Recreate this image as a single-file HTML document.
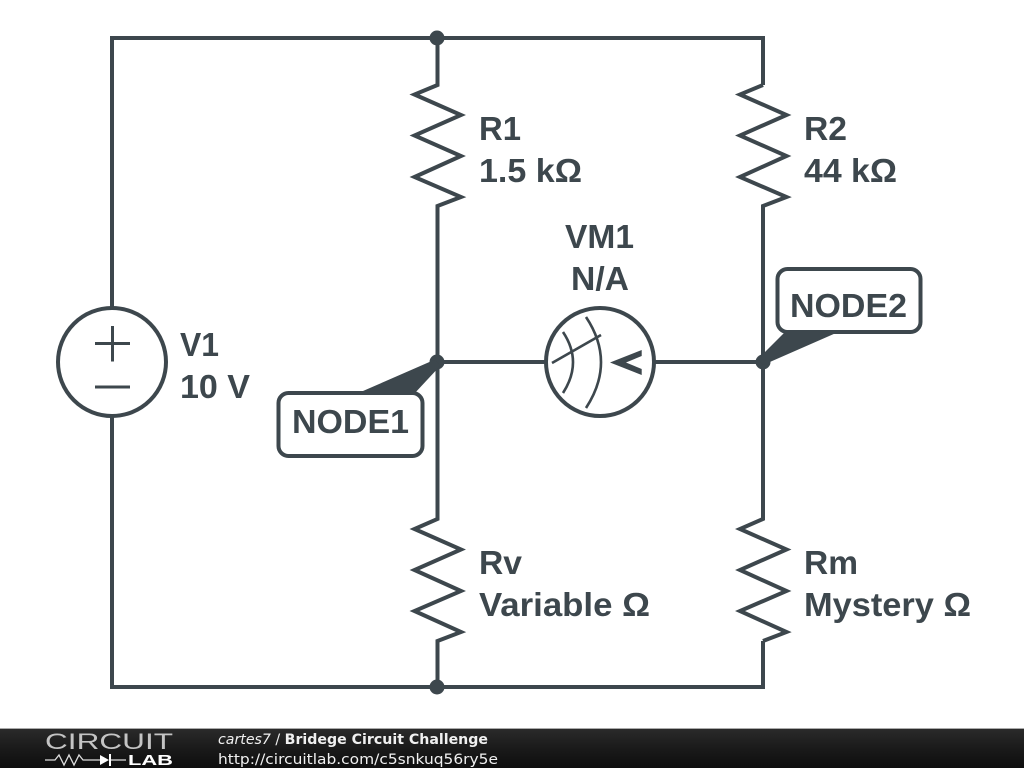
<!DOCTYPE html>
<html><head><meta charset="utf-8"><style>
html,body{margin:0;padding:0;background:#fff;width:1024px;height:768px;overflow:hidden}
svg{display:block}
</style></head><body>
<svg width="1024" height="768" viewBox="0 0 1024 768" xmlns="http://www.w3.org/2000/svg">
<defs>
<linearGradient id="f" x1="0" y1="0" x2="0" y2="1"><stop offset="0" stop-color="#2a2a2a"/><stop offset="0.5" stop-color="#1a1a1a"/><stop offset="1" stop-color="#0e0e0e"/></linearGradient>
</defs>
<g fill="none" stroke="#3d474d" stroke-width="4" stroke-linejoin="miter">
<path d="M112 308V38H763V85"/>
<path d="M112 417V687H763V641"/>
<path d="M437.500 38V85L414.500 94.500L461 115L414.500 135.500L461 156L414.500 177L461 197L437.500 206V519L414.500 529L461 549.500L414.500 570L461 591L414.500 611L461 632L437.500 641V687"/>
<path d="M763 85L740 94.500L786.500 115L740 135.500L786.500 156L740 177L786.500 197L763 206V519L740 529L786.500 549.500L740 570L786.500 591L740 611L786.500 632L763 641"/>
<path d="M437 362H545M655 362H763"/>
<circle cx="112" cy="362" r="54" fill="#fff"/>
<circle cx="600" cy="362" r="54" fill="#fff"/>
</g>
<g fill="none" stroke="#3d474d" stroke-width="3">
<path d="M95 343.500H130M112.500 326V361.500M95 387H130"/>
</g>
<g fill="none" stroke="#3d474d" stroke-width="2.600">
<path d="M552 363L601 335"/>
<path d="M563 332Q583 362 563 393"/>
<path d="M586 317Q616 362 586 408"/>
</g>
<path d="M641.700 350L610 362.500L641.700 375V369L626 362.500L641.700 356Z" fill="#3d474d"/>
<g fill="#3d474d">
<circle cx="437" cy="38" r="7.500"/><circle cx="437" cy="362" r="7.500"/><circle cx="763" cy="362" r="7.500"/><circle cx="437" cy="687" r="7.500"/>
<path d="M363 391L434 360L441 365L414 394Z"/>
<path d="M785 332L836 333L763 365L758 359Z"/>
</g>
<rect x="278.500" y="393" width="144" height="63" rx="10" fill="#fff" stroke="#3d474d" stroke-width="4"/>
<rect x="777.500" y="269" width="143" height="63" rx="10" fill="#fff" stroke="#3d474d" stroke-width="4"/>
<g font-family="'Liberation Sans',sans-serif" font-weight="bold" font-size="33" fill="#3d474d" lengthAdjust="spacingAndGlyphs">
<text x="479" y="140" textLength="42" lengthAdjust="spacingAndGlyphs">R1</text><text x="479" y="182" textLength="103" lengthAdjust="spacingAndGlyphs">1.5 kΩ</text>
<text x="804" y="140" textLength="43" lengthAdjust="spacingAndGlyphs">R2</text><text x="804" y="182" textLength="93" lengthAdjust="spacingAndGlyphs">44 kΩ</text>
<text x="180" y="356" textLength="39" lengthAdjust="spacingAndGlyphs">V1</text><text x="180" y="398" textLength="70" lengthAdjust="spacingAndGlyphs">10 V</text>
<text x="565" y="248" textLength="69" lengthAdjust="spacingAndGlyphs">VM1</text><text x="571" y="290" textLength="58" lengthAdjust="spacingAndGlyphs">N/A</text>
<text x="479" y="574" textLength="43" lengthAdjust="spacingAndGlyphs">Rv</text><text x="479" y="616" textLength="171" lengthAdjust="spacingAndGlyphs">Variable Ω</text>
<text x="804" y="574" textLength="54" lengthAdjust="spacingAndGlyphs">Rm</text><text x="804" y="616" textLength="167" lengthAdjust="spacingAndGlyphs">Mystery Ω</text>
<text x="292" y="433" textLength="117" lengthAdjust="spacingAndGlyphs">NODE1</text><text x="790" y="317" textLength="117" lengthAdjust="spacingAndGlyphs">NODE2</text>
</g>
<rect x="0" y="729" width="1024" height="39" fill="url(#f)"/>
<rect x="0" y="728" width="1024" height="1" fill="#aaa"/>
<text x="45" y="749" font-family="'Liberation Sans',sans-serif" font-size="22" fill="#c4c4c4" textLength="128" lengthAdjust="spacingAndGlyphs">CIRCUIT</text>
<path d="M45 760H55L59 755L64 765L69 755L74 765L79 755L83 760H100M110 760H126" fill="none" stroke="#ddd" stroke-width="1.300"/>
<path d="M100 755L109 760L100 765Z" fill="#fff"/><path d="M110 754V766" stroke="#fff" stroke-width="2"/>
<text x="128" y="765" font-family="'Liberation Sans',sans-serif" font-weight="bold" font-size="15" fill="#fff" textLength="45" lengthAdjust="spacingAndGlyphs">LAB</text>
<g font-family="'DejaVu Sans',sans-serif" font-size="14.500" fill="#f0f0f0">
<text x="218" y="744" textLength="270" lengthAdjust="spacingAndGlyphs"><tspan font-style="italic">cartes7</tspan> / <tspan font-weight="bold">Bridege Circuit Challenge</tspan></text>
<text x="218" y="764" textLength="280" lengthAdjust="spacingAndGlyphs">http://circuitlab.com/c5snkuq56ry5e</text>
</g>
</svg>
</body></html>
